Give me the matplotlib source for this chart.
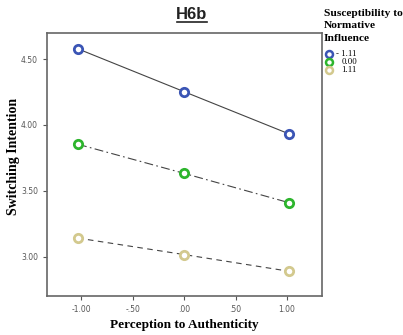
import matplotlib.pyplot as plt
from matplotlib.lines import Line2D

# perception to authenticity (low / mean / high)
x_vals = [-1.03, 0.0, 1.02]

# switching intention per level of susceptibility to normative influence
low_sni = [4.578, 4.253, 3.932]
mid_sni = [3.853, 3.632, 3.409]
high_sni = [3.140, 3.015, 2.888]

group_labels = ["- 1.11", "0.00", "1.11"]
x_ticks = [-1.0, -0.5, 0.0, 0.5, 1.0]
x_tick_labels = ["-1.00", "-.50", ".00", ".50", "1.00"]
y_ticks = [3.0, 3.5, 4.0, 4.5]
y_tick_labels = ["3.00", "3.50", "4.00", "4.50"]

marker_colors = ["#3b55b5", "#2db52d", "#d3c98e"]
line_styles = ["-", (0, (8, 3, 1.5, 3)), (0, (5, 4))]

fig = plt.figure(figsize=(4.03, 3.35), dpi=100)
ax = fig.add_axes([0.117, 0.1164, 0.682, 0.7856])

for ys, color, ls in zip([low_sni, mid_sni, high_sni], marker_colors, line_styles):
    ax.plot(x_vals, ys, color="#444444", linewidth=0.8, linestyle=ls, zorder=1)
    ax.plot(x_vals, ys, linestyle="none", marker="o", markersize=6,
            markerfacecolor="white", markeredgecolor=color,
            markeredgewidth=2, zorder=2)

ax.set_xlim(-1.33, 1.34)
ax.set_ylim(2.70, 4.70)
ax.set_xticks(x_ticks)
ax.set_xticklabels(x_tick_labels)
ax.set_yticks(y_ticks)
ax.set_yticklabels(y_tick_labels)
ax.tick_params(labelsize=5.5, labelcolor="#555555", length=3,
               color="#555555", width=0.8)
for spine in ax.spines.values():
    spine.set_color("#666666")
    spine.set_linewidth(1.2)

ax.set_xlabel("Perception to Authenticity", family="Liberation Serif",
              fontweight="bold", fontsize=9.5)
ax.xaxis.set_label_coords(0.5, -0.11)
ax.xaxis.label.set_va("center")
ax.set_ylabel("Switching Intention", family="Liberation Serif",
              fontweight="bold", fontsize=10)
ax.yaxis.set_label_coords(-0.121, 0.53)
ax.yaxis.label.set_va("center")

# underlined title
fig.text(0.476, 0.957, "H6b", ha="center", va="center", fontsize=12,
         fontweight="bold", family="Liberation Sans", color="#222222")
fig.add_artist(Line2D([0.438, 0.514], [0.934, 0.934], color="#222222",
                      linewidth=1.2))

fig.text(0.804, 0.872, "Susceptibility to\nNormative\nInfluence",
         ha="left", va="bottom", fontsize=8.2, fontweight="bold",
         family="Liberation Serif", linespacing=1.5)

# legend entries: marker + right-aligned value
entry_y = [1 - 54 / 335, 1 - 62 / 335, 1 - 70 / 335]
for label, color, ey in zip(group_labels, marker_colors, entry_y):
    fig.add_artist(Line2D([329 / 403], [ey], linestyle="none", marker="o",
                          markersize=5, markerfacecolor="white",
                          markeredgecolor=color, markeredgewidth=1.8,
                          transform=fig.transFigure))
    fig.text(357 / 403, ey, label, ha="right", va="center", fontsize=6.3,
             family="Liberation Serif")

fig.savefig("out.png", dpi=100)
